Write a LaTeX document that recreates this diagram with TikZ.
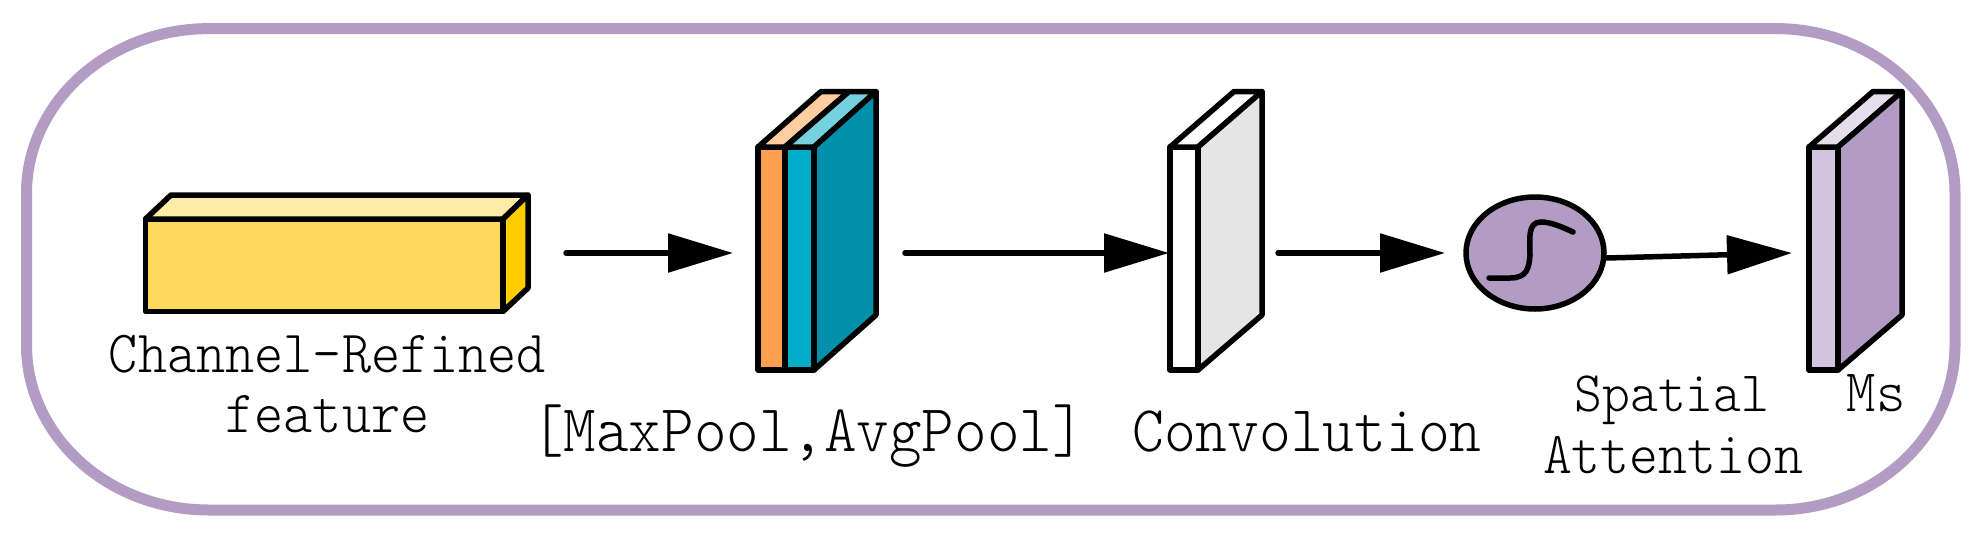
\documentclass[tikz,border=0pt]{standalone}
\usetikzlibrary{arrows.meta,shapes.geometric}
\definecolor{framepurple}{HTML}{B39CC4}
\definecolor{yfront}{HTML}{FFD95C}
\definecolor{ytop}{HTML}{FEEBA8}
\definecolor{yside}{HTML}{FFCC00}
\definecolor{ofront}{HTML}{FFA050}
\definecolor{otop}{HTML}{FFCDA0}
\definecolor{bfront}{HTML}{00ADC8}
\definecolor{btop}{HTML}{75D0E0}
\definecolor{bside}{HTML}{0090AA}
\definecolor{gside}{HTML}{E5E5E5}
\definecolor{pfront}{HTML}{D1C4DF}
\definecolor{ptop}{HTML}{E4DEEC}
\newcommand{\talltext}[1]{\scalebox{1}[1.08]{#1}}
\tikzset{
  frameline/.style={draw=framepurple,line width=11pt},
  solid3d/.style={draw=black,line width=5.5pt,line join=round},
  flow/.style={draw=black,line width=5.5pt,line cap=round,-{Triangle[length=65pt,width=38pt]}},
  lab/.style={anchor=base,inner sep=0pt,font=\ttfamily\fontseries{l}\fontsize{#1}{#1}\selectfont},
}
\begin{document}
\begin{tikzpicture}[x=1pt,y=-1pt]
\useasboundingbox (0,0) rectangle (1984,541);
\fill[white] (0,0) rectangle (1984,541);
% frame
\draw[frameline] (209,28.6) -- (1776,28.6)
  arc[start angle=90,end angle=0,x radius=179pt,y radius=165pt] -- (1955,345)
  arc[start angle=0,end angle=-90,x radius=179pt,y radius=165pt] -- (209,510)
  arc[start angle=270,end angle=180,x radius=182.5pt,y radius=165pt] -- (26.5,193.6)
  arc[start angle=180,end angle=90,x radius=182.5pt,y radius=165pt] -- cycle;
% yellow block
\draw[solid3d,fill=yfront] (145.5,219) rectangle (503,311.5);
\draw[solid3d,fill=ytop] (145.5,219) -- (171,195) -- (528,195) -- (503,219) -- cycle;
\draw[solid3d,fill=yside] (503,219) -- (528,195) -- (528,288) -- (503,311.5) -- cycle;
% concatenated maps
\draw[solid3d,fill=ofront] (758,147) rectangle (785,370);
\draw[solid3d,fill=bfront] (785,147) rectangle (814,370);
\draw[solid3d,fill=otop] (758,147) -- (821,91.5) -- (849,91.5) -- (785,147) -- cycle;
\draw[solid3d,fill=btop] (785,147) -- (849,91.5) -- (876,91.5) -- (814,147) -- cycle;
\draw[solid3d,fill=bside] (814,147) -- (876,91.5) -- (876,315) -- (814,370) -- cycle;
% convolution
\draw[solid3d,fill=white] (1170,147) rectangle (1198,370);
\draw[solid3d,fill=white] (1170,147) -- (1234,91.5) -- (1262,91.5) -- (1198,147) -- cycle;
\draw[solid3d,fill=gside] (1198,147) -- (1262,91.5) -- (1262,315) -- (1198,370) -- cycle;
% Ms
\draw[solid3d,fill=pfront] (1809,147) rectangle (1838,370);
\draw[solid3d,fill=ptop] (1809,147) -- (1873,91.5) -- (1902,91.5) -- (1838,147) -- cycle;
\draw[solid3d,fill=framepurple] (1838,147) -- (1902,91.5) -- (1902,315) -- (1838,370) -- cycle;
% sigmoid
\node[ellipse,draw=black,line width=5.5pt,fill=framepurple,minimum width=138pt,minimum height=112pt,inner sep=0pt] (sig) at (1535,253) {};
\draw[black,line width=5.5pt,line cap=round] (1489,278) -- (1510,278)
  .. controls (1527,278) and (1529,268) .. (1530,255)
  .. controls (1530,240) and (1527,222) .. (1541,222)
  .. controls (1550,222) and (1560,226) .. (1573,232);
% connector ends
\coordinate (a1s) at (566,253);
\coordinate (a1e) at (733,253);
\coordinate (a2s) at (905,253);
\coordinate (a2e) at (1169,253);
\coordinate (a3s) at (1278,253);
\coordinate (a3e) at (1445,253);
\coordinate (a4s) at (1607,258);
\coordinate (a4e) at (1792,253);
\draw[flow] (a1s) -- (a1e);
\draw[flow] (a2s) -- (a2e);
\draw[flow] (a3s) -- (a3e);
\draw[flow] (a4s) -- (a4e);
% labels
\node[lab=55.5] (l1) at (327.5,372) {\talltext{Channel-Refined}};
\node[lab=55.5] (l2) at (327.5,432) {\talltext{feature}};
\node[lab=62] (l3) at (808,451) {\talltext{[MaxPool,AvgPool]}};
\node[lab=60.5] (l4) at (1307,451) {\talltext{Convolution}};
\node[lab=53] (l5) at (1672,411) {\talltext{Spatial}};
\node[lab=55] (l6) at (1673,473) {\talltext{Attention}};
\node[lab=56] (l7) at (1876,411) {\talltext{Ms}};
\end{tikzpicture}
\end{document}
